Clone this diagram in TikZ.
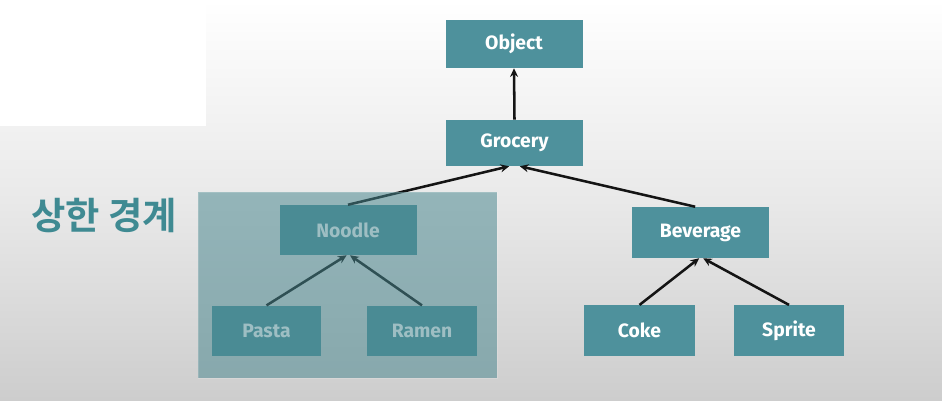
\documentclass[tikz,border=0pt]{standalone}
\usepackage{fontspec}
\setmainfont{Fira Sans}
\newfontfamily\krfont{Noto Sans CJK KR Bold}
\usetikzlibrary{arrows.meta}
\definecolor{boxteal}{HTML}{4E919C}
\definecolor{veil}{HTML}{48868E}
\definecolor{krteal}{HTML}{3F8A92}
\definecolor{bgbot}{HTML}{CDCDCD}
\definecolor{bgmid}{HTML}{E9E9E9}
\begin{document}
\begin{tikzpicture}[x=0.75pt,y=-0.75pt,
  cls/.style={rectangle,fill=boxteal,inner sep=0pt,text=white,
    font=\bfseries\fontsize{14.5}{16}\selectfont},
  big/.style={cls,minimum width=102.75pt,minimum height=36pt},
  small/.style={cls,minimum width=82.5pt,minimum height=38pt},
  arr/.style={line width=1.9pt,draw=black!92,-{Stealth[length=6.5pt,width=6pt]}}]
\useasboundingbox (0,0) rectangle (942,400);
% background
\shade[top color=white,bottom color=bgbot,middle color=bgmid] (0,0) rectangle (942,400);
\fill[white] (0,0) rectangle (206,126);
% label
\node[text=krteal,font=\krfont\fontsize{28}{30}\selectfont,inner sep=0pt] (lbl) at (104,216) {상한 경계};
% nodes
\node[big] (obj) at (514,44) {Object};
\node[big,minimum height=34.5pt] (gro) at (514.5,143) {Grocery};
\node[big,minimum height=37.5pt] (noo) at (348,230) {Noodle};
\node[big,minimum height=38.25pt] (bev) at (700.5,232.5) {Beverage};
\node[small,minimum width=81.75pt] (pas) at (266.5,331) {Pasta};
\node[small] (ram) at (422,331) {Ramen};
\node[small,minimum width=83.25pt] (cok) at (639.5,330.5) {Coke};
\node[small] (spr) at (789,330.5) {Sprite};
% arrows
\draw[arr] (gro.north) -- (obj.south);
\draw[arr] (noo.north) -- ([xshift=-4pt]gro.south);
\draw[arr] ([xshift=-4pt]bev.north) -- ([xshift=4pt]gro.south);
\draw[arr] (pas.north) -- ([xshift=-1pt]noo.south);
\draw[arr] (ram.north) -- ([xshift=1.5pt]noo.south);
\draw[arr] (cok.north) -- ([xshift=-1pt]bev.south);
\draw[arr] (spr.north) -- ([xshift=2pt]bev.south);
% veil over the upper-bounded group
\fill[veil,fill opacity=0.53] (198,192) rectangle (497,378);
\draw[white,opacity=0.15,line width=0.6pt] (198,192) rectangle (497,378);
\end{tikzpicture}
\end{document}
